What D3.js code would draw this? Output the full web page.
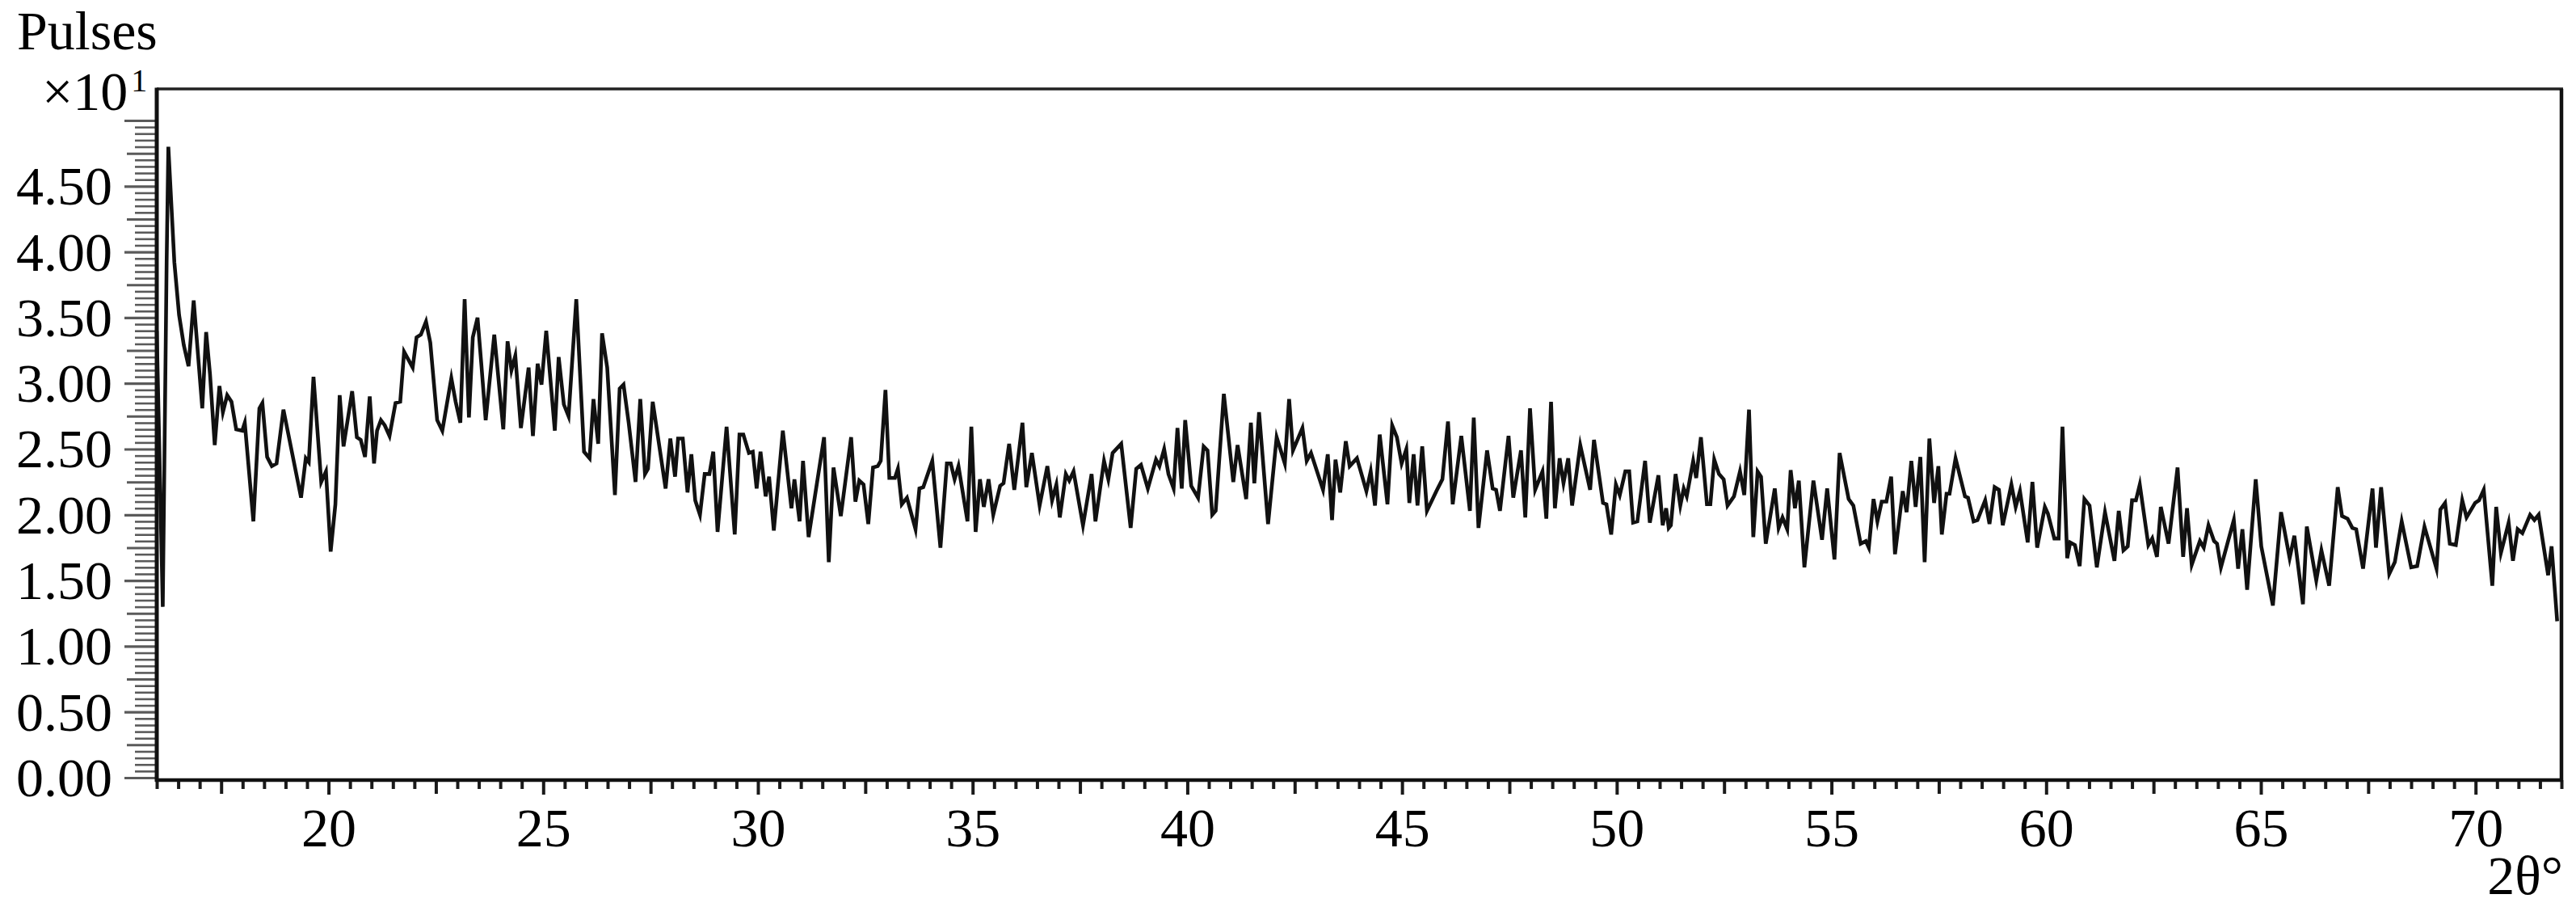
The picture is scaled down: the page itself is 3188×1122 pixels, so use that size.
<!DOCTYPE html>
<html>
<head>
<meta charset="utf-8">
<script src="https://cdn.jsdelivr.net/npm/d3@7"></script>
<style>
  html, body { margin: 0; padding: 0; background: #fff; }
  svg { display: block; }
  text { font-family: "Liberation Serif", "Times New Roman", serif; fill: #000; }
</style>
</head>
<body>
<svg id="chart" width="3188" height="1122"></svg>
<script>
// ---- data ----
const twoTheta = [
16.00,16.14,16.23,16.27,16.41,16.52,16.63,16.74,16.86,17.06,17.15,17.24,17.35,17.46,17.54,17.64,17.74,17.85,17.99,18.05,
18.25,18.39,18.46,18.57,18.68,18.79,18.95,19.36,19.47,19.54,19.65,19.83,19.94,20.05,20.16,20.26,20.35,20.55,20.66,20.75,
20.85,20.96,21.06,21.13,21.22,21.31,21.42,21.56,21.67,21.76,21.86,21.96,22.05,22.15,22.27,22.37,22.53,22.65,22.86,22.96,
23.07,23.17,23.27,23.36,23.47,23.56,23.66,23.86,24.07,24.17,24.26,24.35,24.48,24.66,24.76,24.87,24.96,25.07,25.27,25.36,
25.48,25.59,25.77,25.95,26.08,26.17,26.28,26.37,26.49,26.67,26.78,26.87,26.99,27.15,27.26,27.37,27.44,27.55,27.85,27.96,
28.07,28.14,28.25,28.36,28.45,28.54,28.65,28.76,28.87,28.96,29.06,29.27,29.46,29.57,29.66,29.79,29.88,29.97,30.06,30.18,
30.26,30.37,30.58,30.78,30.85,30.97,31.05,31.18,31.54,31.65,31.76,31.93,32.17,32.27,32.36,32.46,32.57,32.68,32.79,32.86,
32.97,33.06,33.19,33.26,33.35,33.47,33.67,33.76,33.85,34.06,34.25,34.40,34.49,34.58,34.67,34.88,34.97,35.07,35.17,35.26,
35.37,35.48,35.64,35.72,35.85,35.97,36.16,36.25,36.38,36.56,36.74,36.85,36.95,37.03,37.17,37.25,37.35,37.57,37.77,37.86,
38.06,38.16,38.26,38.46,38.68,38.81,38.92,39.08,39.27,39.35,39.46,39.56,39.68,39.77,39.87,39.95,40.09,40.25,40.38,40.47,
40.58,40.66,40.85,41.07,41.17,41.37,41.48,41.56,41.67,41.88,42.08,42.27,42.37,42.46,42.68,42.78,42.88,43.16,43.27,43.37,
43.45,43.56,43.69,43.78,43.95,44.17,44.27,44.37,44.48,44.66,44.77,44.88,44.99,45.10,45.17,45.27,45.36,45.47,45.58,45.80,
45.94,46.07,46.18,46.38,46.58,46.67,46.78,46.98,47.11,47.19,47.28,47.48,47.59,47.77,47.87,47.98,48.10,48.27,48.36,48.47,
48.56,48.67,48.76,48.87,48.96,49.15,49.38,49.47,49.68,49.76,49.87,49.98,50.07,50.20,50.29,50.38,50.48,50.66,50.77,50.97,
51.07,51.15,51.21,51.26,51.37,51.48,51.56,51.63,51.78,51.85,51.96,52.10,52.18,52.27,52.38,52.49,52.58,52.73,52.87,52.97,
53.08,53.18,53.28,53.36,53.47,53.68,53.77,53.86,53.97,54.05,54.15,54.24,54.37,54.58,54.78,54.90,55.07,55.19,55.40,55.51,
55.68,55.80,55.87,55.98,56.07,56.17,56.28,56.39,56.48,56.66,56.75,56.86,56.96,57.07,57.17,57.28,57.39,57.49,57.57,57.68,
57.75,57.89,58.11,58.18,58.31,58.40,58.58,58.68,58.80,58.90,58.99,59.19,59.29,59.39,59.57,59.68,59.79,59.97,60.04,60.19,
60.29,60.38,60.49,60.56,60.67,60.78,60.89,61.01,61.18,61.37,61.59,61.69,61.80,61.90,62.00,62.09,62.18,62.38,62.47,62.58,
62.67,62.85,63.06,63.19,63.28,63.39,63.58,63.67,63.78,63.91,63.98,64.07,64.37,64.47,64.57,64.68,64.88,65.01,65.28,65.47,
65.67,65.78,65.98,66.07,66.29,66.41,66.59,66.79,66.89,67.02,67.13,67.22,67.38,67.60,67.68,67.80,67.99,68.12,68.28,68.50,
68.64,68.81,69.09,69.18,69.29,69.40,69.54,69.69,69.79,69.99,70.08,70.19,70.39,70.48,70.59,70.77,70.87,70.98,71.09,71.27,
71.37,71.47,71.69,71.77,71.90
];
const pulses = [
3.40,1.30,3.92,4.80,3.92,3.52,3.29,3.13,3.63,2.81,3.39,3.07,2.53,2.98,2.78,2.91,2.86,2.65,2.64,2.70,
1.95,2.81,2.85,2.44,2.37,2.39,2.80,2.13,2.43,2.40,3.05,2.25,2.33,1.72,2.08,2.91,2.52,2.94,2.59,2.57,
2.44,2.90,2.39,2.64,2.72,2.68,2.60,2.85,2.86,3.24,3.18,3.12,3.35,3.37,3.47,3.31,2.72,2.64,3.04,2.86,
2.70,3.64,2.74,3.35,3.50,3.14,2.72,3.37,2.65,3.32,3.10,3.21,2.66,3.12,2.60,3.15,2.99,3.40,2.64,3.20,
2.84,2.75,3.64,2.48,2.43,2.88,2.54,3.38,3.12,2.15,2.96,2.99,2.70,2.25,2.88,2.31,2.35,2.86,2.20,2.58,
2.29,2.58,2.58,2.17,2.46,2.11,2.00,2.31,2.31,2.48,1.87,2.67,1.85,2.61,2.61,2.47,2.48,2.20,2.48,2.14,
2.29,1.88,2.64,2.05,2.27,1.95,2.41,1.83,2.59,1.64,2.36,1.99,2.59,2.10,2.26,2.23,1.93,2.36,2.37,2.41,
2.95,2.28,2.28,2.35,2.08,2.13,1.89,2.20,2.21,2.41,1.75,2.39,2.39,2.27,2.37,1.95,2.67,1.87,2.27,2.06,
2.27,2.00,2.22,2.24,2.54,2.19,2.70,2.21,2.47,2.07,2.37,2.11,2.23,1.98,2.31,2.26,2.33,1.92,2.31,1.95,
2.41,2.27,2.47,2.54,1.90,2.35,2.38,2.20,2.42,2.37,2.50,2.31,2.20,2.66,2.20,2.72,2.22,2.13,2.52,2.49,
2.00,2.03,2.92,2.25,2.53,2.12,2.70,2.24,2.78,1.93,2.59,2.39,2.88,2.49,2.66,2.41,2.47,2.19,2.46,1.96,
2.42,2.17,2.56,2.37,2.43,2.18,2.33,2.07,2.61,2.08,2.68,2.59,2.39,2.50,2.09,2.46,2.07,2.52,2.03,2.18,
2.27,2.71,2.08,2.60,2.03,2.74,1.90,2.49,2.20,2.19,2.03,2.60,2.13,2.49,1.98,2.81,2.19,2.33,1.97,2.86,
2.05,2.43,2.24,2.43,2.07,2.53,2.19,2.57,2.09,2.08,1.85,2.23,2.15,2.33,2.33,1.94,1.95,2.41,1.94,2.30,
1.92,2.05,1.90,1.92,2.31,2.07,2.20,2.14,2.41,2.28,2.59,2.08,2.08,2.42,2.31,2.27,2.07,2.14,2.33,2.15,
2.80,1.83,2.33,2.29,1.78,2.20,1.90,1.98,1.89,2.34,2.05,2.26,1.60,2.26,1.81,2.20,1.66,2.47,2.12,2.07,
1.78,1.80,1.75,2.12,1.95,2.10,2.10,2.29,1.70,2.18,2.02,2.41,2.06,2.44,1.64,2.58,2.09,2.37,1.85,2.16,
2.16,2.43,2.14,2.13,1.95,1.96,2.11,1.93,2.21,2.19,1.92,2.23,2.06,2.18,1.79,2.25,1.75,2.06,2.01,1.82,
1.82,2.67,1.67,1.79,1.77,1.61,2.12,2.07,1.60,2.02,1.65,2.03,1.73,1.76,2.11,2.11,2.23,1.77,1.82,1.68,
2.06,1.78,2.36,1.68,2.05,1.62,1.80,1.75,1.92,1.80,1.78,1.60,1.96,1.59,1.89,1.43,2.27,1.76,1.31,2.02,
1.67,1.84,1.32,1.91,1.50,1.73,1.46,2.21,1.99,1.97,1.90,1.89,1.59,2.20,1.75,2.21,1.55,1.64,1.95,1.60,
1.61,1.91,1.59,2.04,2.09,1.78,1.77,2.11,1.98,2.09,2.11,2.19,1.46,2.06,1.71,1.94,1.65,1.89,1.86,2.00,
1.96,2.00,1.54,1.76,1.19
];
const xTickLabels = [20, 25, 30, 35, 40, 45, 50, 55, 60, 65, 70];
const yTickLabels = ["0.00","0.50","1.00","1.50","2.00","2.50","3.00","3.50","4.00","4.50"];
const yAxisTitle = "Pulses";
const yAxisUnit = "×10";
const yAxisUnitExp = "1";
const xAxisTitle = "2θ°";

(function draw() {
  // ---- layout ----
  const W = 3188, H = 1122;
  const pLeft = 194, pRight = 3170, pTop = 110, zeroY = 962, xAxisY = 965;
  const svg = d3.select("#chart");
  svg.append("rect").attr("width", W).attr("height", H).attr("fill", "#fff");

  const x = d3.scaleLinear().domain([16, 72]).range([pLeft, pRight]);
  const y = d3.scaleLinear().domain([0, 5.24]).range([zeroY, pTop]);

  const FS = 68;
  const FF = "Liberation Serif, Times New Roman, serif";

  function styleTicks(g, color, width) {
    g.select(".domain").remove();
    g.selectAll(".tick line").attr("stroke", color).attr("stroke-width", width);
  }

  // ---- y ticks ----
  const yMajorVals = yTickLabels.map(s => +s);
  const yAll = d3.range(0, 101).map(i => +(i * 0.05).toFixed(2)); // 0..5.00
  const isQuarter = v => Math.abs(v * 4 - Math.round(v * 4)) < 1e-6;
  const yTopTick = [5];
  const yMedVals = yAll.filter(v => isQuarter(v) && !yMajorVals.includes(v) && v !== 5);
  const yMinVals = yAll.filter(v => !isQuarter(v));

  svg.append("g").attr("transform", `translate(${pLeft},0)`)
    .call(d3.axisLeft(y).tickValues(yMinVals).tickSize(27).tickFormat(""))
    .call(g => styleTicks(g, "#5a5a5a", 2.6));
  svg.append("g").attr("transform", `translate(${pLeft},0)`)
    .call(d3.axisLeft(y).tickValues(yMedVals).tickSize(37).tickFormat(""))
    .call(g => styleTicks(g, "#5a5a5a", 3));
  svg.append("g").attr("transform", `translate(${pLeft},0)`)
    .call(d3.axisLeft(y).tickValues(yTopTick).tickSize(40).tickFormat(""))
    .call(g => styleTicks(g, "#5a5a5a", 3.2));
  svg.append("g").attr("transform", `translate(${pLeft},0)`)
    .call(d3.axisLeft(y).tickValues(yMajorVals).tickSize(40).tickPadding(15)
          .tickFormat((d, i) => yTickLabels[i]))
    .call(g => styleTicks(g, "#5a5a5a", 3.2))
    .call(g => g.selectAll(".tick text")
        .attr("font-size", FS).attr("font-family", FF).attr("fill", "#000")
        .attr("dy", "0.33em"));

  // ---- x ticks ----
  const xAll = d3.range(0, 113).map(i => 16 + i * 0.5);
  const xMajorVals = xTickLabels.slice();
  const xMedVals = xAll.filter(v => Math.abs((v - 2.5) % 5) < 1e-6);
  const xMinVals = xAll.filter(v => !xMajorVals.includes(v) && !xMedVals.includes(v));

  svg.append("g").attr("transform", `translate(0,${xAxisY})`)
    .call(d3.axisBottom(x).tickValues(xMinVals).tickSize(11).tickFormat(""))
    .call(g => styleTicks(g, "#1a1a1a", 4));
  svg.append("g").attr("transform", `translate(0,${xAxisY})`)
    .call(d3.axisBottom(x).tickValues(xMedVals).tickSize(17).tickFormat(""))
    .call(g => styleTicks(g, "#1a1a1a", 4));
  svg.append("g").attr("transform", `translate(0,${xAxisY})`)
    .call(d3.axisBottom(x).tickValues(xMajorVals).tickSize(18).tickPadding(16)
          .tickFormat(d => String(d)))
    .call(g => styleTicks(g, "#1a1a1a", 4))
    .call(g => g.selectAll(".tick text")
        .attr("font-size", FS).attr("font-family", FF).attr("fill", "#000"));

  // ---- frame ----
  const frame = svg.append("g").attr("fill", "none");
  frame.append("line").attr("x1", pLeft).attr("x2", pRight + 2).attr("y1", pTop).attr("y2", pTop)
    .attr("stroke", "#222").attr("stroke-width", 3.5);
  frame.append("line").attr("x1", pRight).attr("x2", pRight).attr("y1", pTop).attr("y2", xAxisY)
    .attr("stroke", "#111").attr("stroke-width", 4.5);
  frame.append("line").attr("x1", pLeft).attr("x2", pLeft).attr("y1", pTop - 1.5).attr("y2", xAxisY + 2)
    .attr("stroke", "#111").attr("stroke-width", 5);
  frame.append("line").attr("x1", pLeft - 2).attr("x2", pRight + 2).attr("y1", xAxisY).attr("y2", xAxisY)
    .attr("stroke", "#111").attr("stroke-width", 4.5);

  // ---- data line ----
  const pts = twoTheta.map((t, i) => [t, pulses[i]]);
  const line = d3.line().x(d => x(d[0])).y(d => y(d[1])).curve(d3.curveLinear);
  svg.append("path")
    .datum(pts)
    .attr("d", line)
    .attr("fill", "none")
    .attr("stroke", "#111")
    .attr("stroke-width", 4.6)
    .attr("stroke-linejoin", "miter")
    .attr("stroke-miterlimit", 6);

  // ---- titles ----
  svg.append("text").attr("x", 21).attr("y", 61).attr("font-size", FS).text(yAxisTitle);
  const unit = svg.append("text").attr("x", 52).attr("y", 136).attr("font-size", FS);
  unit.append("tspan").text(yAxisUnit);
  unit.append("tspan").attr("font-size", 40).attr("dy", -23).attr("dx", 4).text(yAxisUnitExp);
  svg.append("text").attr("x", 3172).attr("y", 1106).attr("font-size", FS)
    .attr("text-anchor", "end").text(xAxisTitle);
})();
</script>
</body>
</html>
